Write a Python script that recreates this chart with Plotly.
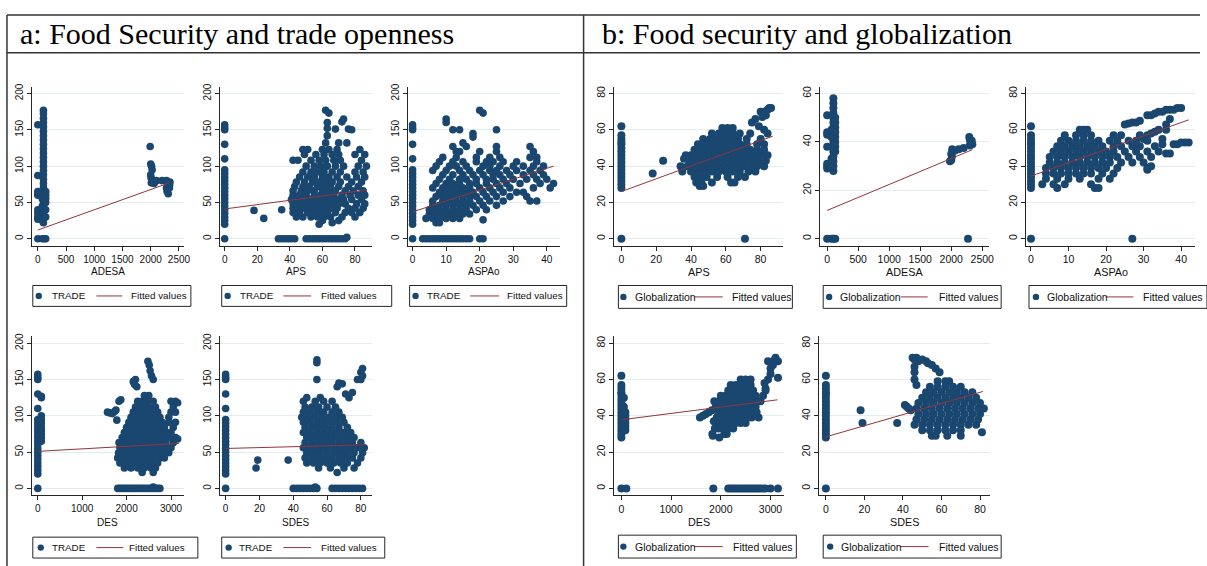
import plotly.graph_objects as go

W, H = 1207, 566
NAVY = "#1a476f"
MAROON = "#90353b"
GRID = "#e3ecee"
INK = "#262626"
SANS = "Liberation Sans, Arial, sans-serif"
SERIF = "Liberation Serif, Times New Roman, serif"

# ======================= DATA =======================
# TRADE / Globalization observations sitting at x = 0
trade_at_zero = [0, 20, 25, 30, 35, 40, 45, 50, 55, 60, 65, 70, 75, 80, 85, 90, 95,
                 110, 130, 150, 153, 157]
glob_at_zero = [0, 28, 30, 32, 34, 36, 38, 40, 42, 44, 46, 48, 50, 52, 53, 55, 57, 62]

# ---- a1: ADESA vs TRADE ----
adesa_trade_cols = [
    (0, [0, 27, 30, 35, 40, 60, 62, 65, 87, 157]),
    (80, [0, 25, 35, 45, 55]),
    (100, [22, 28, 34, 40, 46, 52, 58, 64, 70, 76, 82, 88, 94, 100, 106, 112, 118,
           124, 130, 136, 142, 148, 154, 160, 166, 172, 177]),
    (120, [0]),
    (140, [0, 30, 40, 50, 55, 60, 65]),
]
adesa_trade_pairs = [(1990, 127), (2000, 103), (2015, 100), (2025, 95), (2000, 88),
                     (2005, 84), (2020, 81), (2040, 79), (2060, 76), (2010, 77),
                     (2100, 80), (2200, 80), (2280, 80), (2300, 76), (2320, 73),
                     (2330, 70), (2300, 68), (2290, 65), (2310, 62), (2340, 78),
                     (2335, 74), (2320, 77), (2280, 70), (2300, 72)]
adesa_trade_fit_x = [0, 2330]
adesa_trade_fit_y = [12, 77]

# ---- a2: APS vs TRADE ----
aps_trade_cols = [(0, trade_at_zero)]
aps_trade_rows = [
    (0, [33, 35, 37, 39, 41, 43, 50, 52, 54, 56, 58, 60, 62, 64, 66, 68, 70, 72, 74]),
    (25, [60, 70]),
    (30, [44, 48, 53, 57, 61, 65, 72, 80]),
    (36, [42, 46, 51, 55, 59, 63, 68, 74, 78, 83]),
    (42, [42, 45, 49, 53, 57, 61, 65, 69, 76, 80, 85]),
    (48, [42, 46, 50, 54, 58, 62, 66, 70, 74, 81, 86]),
    (54, [41, 45, 49, 53, 57, 61, 65, 69, 73, 78, 84]),
    (60, [42, 46, 50, 55, 59, 63, 67, 72, 77, 82, 86]),
    (66, [42, 47, 51, 55, 60, 64, 68, 74, 79, 85]),
    (72, [43, 48, 52, 57, 61, 65, 70, 76, 82]),
    (78, [44, 49, 54, 58, 62, 66, 71, 78, 84]),
    (85, [46, 51, 55, 60, 64, 69, 75, 81, 86]),
    (92, [48, 53, 57, 61, 66, 71, 80, 85]),
    (100, [50, 55, 59, 63, 68, 73, 82, 87]),
    (108, [42, 45, 53, 58, 62, 67, 71, 84]),
    (116, [49, 56, 61, 66, 70, 80, 86]),
    (123, [48, 51, 60, 64, 69, 83]),
    (132, [62, 70, 75]),
    (142, [63]),
]
aps_trade_pairs = [(18, 39), (24, 28), (35, 40), (75, 2), (62, 177), (64, 173), (63, 160),
                   (63, 152), (73, 165), (72, 161), (68, 151), (76, 151), (78, 150),
                   (58, 20), (66, 22)]
aps_trade_fit_x = [0, 87]
aps_trade_fit_y = [41, 67]

# ---- a3: ASPAo vs TRADE ----
aspao_trade_cols = [(0, trade_at_zero)]
aspao_trade_rows = [
    (0, [3, 4, 5, 6, 7, 8, 9, 10, 11, 12, 13, 14, 15, 16, 17, 20, 21]),
    (22, [7, 8]),
    (28, [4, 6, 8, 10, 12, 14]),
    (34, [5, 7, 9, 11, 13, 15, 17]),
    (40, [5, 6, 8, 10, 12, 14, 16, 19, 22]),
    (46, [6, 8, 10, 12, 14, 16, 18, 21, 25]),
    (52, [6, 9, 11, 13, 15, 17, 20, 23, 27, 35, 37]),
    (58, [7, 9, 11, 13, 15, 17, 19, 22, 25, 29, 34]),
    (64, [8, 10, 12, 14, 16, 18, 21, 24, 27, 31, 33]),
    (70, [6, 9, 11, 13, 15, 17, 20, 23, 26, 29, 36, 41]),
    (76, [7, 10, 12, 14, 17, 19, 22, 25, 28, 32, 38, 42]),
    (82, [8, 11, 14, 16, 19, 22, 24, 27, 30, 34, 37, 40]),
    (88, [9, 12, 15, 18, 21, 24, 26, 29, 33, 36, 39]),
    (94, [6, 10, 14, 17, 20, 23, 25, 28, 31, 35, 38]),
    (100, [7, 11, 13, 16, 21, 23, 26, 30, 33, 36, 39]),
    (106, [8, 12, 15, 19, 22, 24, 27, 31, 37]),
    (112, [9, 13, 19, 23, 26, 35, 37]),
    (120, [13, 14, 20, 25, 36]),
    (127, [12, 16, 25, 35]),
]
aspao_trade_pairs = [(10, 165), (10, 160), (12, 150), (14, 150), (18, 140), (18, 145),
                     (20, 177), (21, 173), (25, 150), (15, 132), (21, 26)]
aspao_trade_fit_x = [0, 42]
aspao_trade_fit_y = [37, 100]

# ---- a4: DES vs TRADE ----
des_trade_cols = [(0, trade_at_zero), (80, [65, 70, 75, 80, 85, 90, 95, 100, 125, 127])]
des_trade_rows = [
    (0, [1800, 1850, 1900, 1950, 2000, 2050, 2100, 2150, 2200, 2250, 2300, 2350, 2400,
         2450, 2500, 2550, 2600, 2650, 2700, 2750]),
    (22, [2350, 2600]),
    (28, [1950, 2100, 2250, 2400, 2550, 2650]),
    (35, [1850, 1950, 2050, 2150, 2250, 2350, 2450, 2550, 2700]),
    (42, [1800, 1900, 2000, 2100, 2200, 2300, 2400, 2500, 2600, 2750, 2850]),
    (49, [1820, 1920, 2020, 2120, 2220, 2320, 2420, 2520, 2620, 2720, 2850, 2950]),
    (56, [1850, 1950, 2050, 2150, 2250, 2350, 2450, 2550, 2650, 2750, 2900, 3000]),
    (63, [1830, 1930, 2030, 2130, 2230, 2330, 2430, 2530, 2630, 2730, 2880, 3050]),
    (70, [1900, 2000, 2100, 2200, 2300, 2400, 2500, 2600, 2700, 2800, 2950, 3100]),
    (77, [1950, 2050, 2150, 2250, 2350, 2450, 2550, 2650, 2750, 2900, 3000]),
    (84, [2000, 2100, 2200, 2300, 2400, 2500, 2600, 2700, 2850, 3050]),
    (91, [2050, 2150, 2250, 2350, 2450, 2550, 2650, 2800, 2950, 3100]),
    (98, [2100, 2200, 2300, 2400, 2500, 2600, 2750, 2950]),
    (105, [2150, 2250, 2350, 2450, 2550, 2700, 3000, 3100]),
    (112, [2200, 2300, 2400, 2500, 2650, 3050]),
    (120, [2250, 2350, 2450, 2600, 3000, 3100]),
    (128, [2400, 2500]),
]
des_trade_pairs = [(1570, 105), (1620, 104), (1680, 103), (1730, 106), (1760, 108),
                   (1780, 94), (1830, 120), (1870, 122), (2480, 175), (2510, 170),
                   (2530, 162), (2560, 155), (2600, 150), (2200, 150), (2180, 143),
                   (2230, 140), (2150, 147), (3150, 68), (3150, 118), (2600, 2)]
des_trade_fit_x = [0, 3180]
des_trade_fit_y = [51, 62]

# ---- a5: SDES vs TRADE ----
sdes_trade_cols = [(0, trade_at_zero)]
sdes_trade_rows = [
    (0, [40, 42, 44, 46, 48, 50, 52, 54, 63, 65, 67, 69, 71, 73, 75, 77, 79, 81]),
    (22, [66]),
    (28, [55, 62, 70, 76]),
    (35, [48, 52, 56, 60, 64, 68, 72, 78]),
    (42, [47, 51, 55, 59, 63, 67, 71, 75, 80]),
    (49, [48, 52, 56, 60, 64, 68, 72, 76, 81]),
    (56, [46, 50, 54, 58, 62, 66, 70, 74, 78, 82]),
    (63, [47, 51, 55, 59, 63, 67, 71, 75, 80]),
    (70, [48, 52, 56, 60, 64, 68, 72, 76]),
    (77, [46, 50, 54, 58, 62, 66, 70, 74]),
    (84, [47, 51, 55, 59, 63, 67, 72]),
    (91, [46, 50, 54, 58, 62, 66, 70]),
    (98, [45, 49, 53, 57, 61, 65, 69]),
    (105, [46, 50, 54, 58, 63, 67]),
    (112, [47, 51, 55, 60, 65]),
    (120, [46, 53, 58]),
    (125, [48, 56]),
]
sdes_trade_pairs = [(18, 28), (19, 39), (37, 39), (54, 177), (54, 173), (54, 150),
                    (66, 140), (67, 145), (69, 144), (71, 130), (73, 125), (75, 132),
                    (78, 150), (80, 150), (80, 160), (81, 165), (81, 155), (63, 120),
                    (65, 110), (53, 2)]
sdes_trade_fit_x = [0, 82]
sdes_trade_fit_y = [55, 60]

# ---- b1: APS vs Globalization ----
aps_glob_cols = [(0, glob_at_zero)]
aps_glob_rows = [
    (29, [45, 47]),
    (31, [43, 46, 52, 63, 65]),
    (34, [42, 45, 49, 55, 61, 67, 71]),
    (37, [40, 44, 48, 52, 56, 60, 64, 68, 73, 77]),
    (40, [38, 42, 46, 50, 54, 58, 62, 66, 70, 74, 78, 82]),
    (43, [39, 43, 47, 51, 55, 59, 63, 67, 71, 75, 79, 83]),
    (46, [40, 44, 48, 52, 56, 60, 64, 68, 72, 76, 80, 84]),
    (49, [42, 46, 50, 54, 58, 62, 66, 70, 74, 78, 82]),
    (52, [44, 48, 52, 56, 60, 64, 68, 72, 78, 82]),
    (55, [47, 51, 55, 59, 63, 67, 72, 80]),
    (58, [52, 56, 60, 64, 68, 74]),
    (61, [58, 61, 64]),
]
aps_glob_pairs = [(18, 36), (24, 43), (71, 0), (34, 40), (35, 37), (36, 44), (37, 46),
                  (75, 64), (77, 66), (80, 70), (82, 70), (84, 71), (85, 72), (86, 72),
                  (83, 68), (81, 67), (79, 62), (82, 60), (84, 58)]
aps_glob_fit_x = [0, 87]
aps_glob_fit_y = [26, 56.5]

# ---- b2: ADESA vs Globalization ----
adesa_glob_cols = [
    (0, [0, 29, 30, 31, 38, 43, 44, 51]),
    (70, [0, 30, 33, 42, 45]),
    (100, [0, 28, 30, 32, 34, 36, 38, 40, 42, 44, 46, 48, 50, 52, 54, 56, 58]),
    (130, [0, 36, 38, 40, 42, 44, 46, 48, 50]),
]
adesa_glob_pairs = [(2270, 0), (1980, 32), (2000, 32.5), (2010, 34), (2020, 36),
                    (2015, 37), (2060, 36.5), (2120, 37), (2200, 37.5), (2000, 35),
                    (2290, 42), (2300, 41), (2310, 40), (2330, 40.5), (2320, 39),
                    (2340, 39), (2300, 38.5)]
adesa_glob_fit_x = [0, 2340]
adesa_glob_fit_y = [11.7, 36.8]

# ---- b3: ASPAo vs Globalization ----
aspao_glob_cols = [(0, glob_at_zero)]
aspao_glob_rows = [
    (28, [7, 17, 18]),
    (30, [3, 6, 9, 16]),
    (33, [4, 7, 10, 13, 18, 21]),
    (36, [4, 6, 8, 10, 12, 14, 16, 19, 22]),
    (39, [4, 6, 8, 10, 12, 14, 16, 18, 20, 23, 31]),
    (42, [5, 7, 9, 11, 13, 15, 17, 19, 21, 24, 27, 30]),
    (45, [5, 7, 9, 11, 13, 15, 17, 19, 21, 23, 26, 29, 32]),
    (48, [6, 8, 10, 12, 14, 16, 18, 20, 22, 25, 28, 31, 34]),
    (51, [7, 9, 11, 13, 15, 17, 19, 22, 24, 27, 29, 33]),
    (54, [8, 10, 12, 14, 16, 18, 21, 23, 26, 28, 31]),
    (57, [9, 12, 14, 16, 22, 24, 29]),
    (60, [13, 14, 15]),
]
aspao_glob_pairs = [(27, 0), (25, 63), (26, 63.5), (27, 64), (28, 64), (29, 65), (31, 68),
                    (32, 68), (33, 69), (34, 70), (35, 70), (36, 71), (37, 71), (38, 71),
                    (39, 72), (40, 72), (36, 47), (37, 47), (38, 52), (39, 52), (40, 53),
                    (41, 53), (42, 53), (35, 55), (36, 60), (36, 63), (37, 66), (35, 52),
                    (30, 55), (31, 57), (32, 58), (33, 59), (34, 60), (31, 38), (32, 40)]
aspao_glob_fit_x = [0, 42]
aspao_glob_fit_y = [34.5, 65.5]

# ---- b4: DES vs Globalization ----
des_glob_cols = [(0, glob_at_zero), (80, [32, 34, 36, 38, 40, 42]), (50, [35, 45, 50])]
des_glob_rows = [
    (0, [100, 1850, 2150, 2200, 2250, 2300, 2350, 2400, 2450, 2500, 2550, 2600, 2650,
         2700, 2750, 2800, 2850, 2900, 3000, 3150]),
    (30, [2070, 2120]),
    (33, [1950, 2050, 2150, 2250]),
    (36, [1900, 2000, 2100, 2200, 2300, 2400, 2500]),
    (39, [1920, 2020, 2120, 2220, 2320, 2420, 2520, 2620, 2760]),
    (42, [1950, 2050, 2150, 2250, 2350, 2450, 2550, 2650, 2720]),
    (45, [1900, 2000, 2100, 2200, 2300, 2400, 2500, 2600, 2700]),
    (48, [1870, 1970, 2070, 2170, 2270, 2370, 2470, 2570, 2670, 2800]),
    (51, [2000, 2100, 2200, 2300, 2400, 2500, 2600, 2700, 2850]),
    (54, [2150, 2250, 2350, 2450, 2550, 2650, 2900]),
    (57, [2200, 2300, 2400, 2500, 2600]),
    (60, [2400, 2500, 2600]),
]
des_glob_pairs = [(1580, 39), (1640, 40), (1700, 41), (1760, 42), (1820, 43), (1830, 30),
                  (1840, 29), (1970, 28), (1880, 33), (1860, 37), (2950, 60), (3000, 63),
                  (3000, 66), (2950, 70), (3050, 70), (3100, 71), (3100, 72), (3150, 70),
                  (3150, 61), (3050, 68), (2880, 58), (2900, 55)]
des_glob_fit_x = [0, 3140]
des_glob_fit_y = [37.8, 48.8]

# ---- b5: SDES vs Globalization ----
sdes_glob_cols = [(0, glob_at_zero)]
sdes_glob_rows = [
    (29, [55, 57, 63, 70]),
    (32, [50, 54, 58, 62, 66, 70]),
    (35, [46, 50, 54, 58, 62, 66, 70, 74, 78]),
    (38, [47, 51, 55, 59, 63, 67, 71, 75, 79]),
    (41, [48, 52, 56, 60, 64, 68, 72, 76, 80]),
    (44, [47, 51, 55, 59, 63, 67, 71, 75, 79, 82]),
    (47, [48, 52, 56, 60, 64, 68, 72, 76, 80]),
    (50, [50, 54, 58, 62, 66, 70, 74, 78]),
    (53, [52, 56, 60, 64, 68, 72, 76]),
    (56, [54, 58, 62, 66, 70]),
    (59, [58, 62, 64]),
]
sdes_glob_pairs = [(18, 43), (19, 36), (37, 36), (41, 46), (42, 45), (43, 44), (44, 43),
                   (45, 72), (46, 71), (47, 72), (48, 70), (46, 67), (46, 64), (46, 60),
                   (47, 57), (52, 70), (53, 69), (55, 68), (57, 66), (59, 64), (50, 71),
                   (81, 31)]
sdes_glob_fit_x = [0, 81.5]
sdes_glob_fit_y = [28.4, 53.4]

trade_ticks = [0, 50, 100, 150, 200]
glob_ticks = [0, 20, 40, 60, 80]
glob_ticks_60 = [0, 20, 40, 60]
adesa_ticks = [0, 500, 1000, 1500, 2000, 2500]
aps_ticks = [0, 20, 40, 60, 80]
aspao_ticks = [0, 10, 20, 30, 40]
des_ticks = [0, 1000, 2000, 3000]
sdes_ticks = [0, 20, 40, 60, 80]


def collect(cols=(), rows=(), pairs=()):
    xs, ys = [], []
    for x, yl in cols:
        xs += [x] * len(yl)
        ys += list(yl)
    for y, xl in rows:
        xs += list(xl)
        ys += [y] * len(xl)
    for x, y in pairs:
        xs.append(x)
        ys.append(y)
    return xs, ys


# ======================= LAYOUT (pixel boxes) =======================
def fx(px):
    return px / W


def fy(py):
    return 1 - py / H


LEFT = dict(ms=7.6, tick=10, title=10, leg=9.8)
RIGHT = dict(ms=8.0, tick=10.5, title=10.8, leg=10.5)

panels = [
    dict(data=collect(adesa_trade_cols, (), adesa_trade_pairs), fit=(adesa_trade_fit_x, adesa_trade_fit_y),
         xd=(32, 185), yd=(84, 244), xr=(-106, 2588), yr=(-9.6, 209.6), xt=adesa_ticks, yt=trade_ticks,
         xtitle="ADESA", yname="TRADE", st=LEFT, ty=270,
         leg=dict(box=(33, 192, 284, 305), m=39, t1=50, l=(97, 123), t2=130)),
    dict(data=collect(aps_trade_cols, aps_trade_rows, aps_trade_pairs), fit=(aps_trade_fit_x, aps_trade_fit_y),
         xd=(221, 374), yd=(84, 244), xr=(-3.05, 90.35), yr=(-9.6, 209.6), xt=aps_ticks, yt=trade_ticks,
         xtitle="APS", yname="TRADE", st=LEFT, ty=270,
         leg=dict(box=(223, 394, 284, 305), m=229, t1=239, l=(285, 313), t2=321)),
    dict(data=collect(aspao_trade_cols, aspao_trade_rows, aspao_trade_pairs), fit=(aspao_trade_fit_x, aspao_trade_fit_y),
         xd=(410, 563), yd=(84, 244), xr=(-1.48, 43.85), yr=(-9.6, 209.6), xt=aspao_ticks, yt=trade_ticks,
         xtitle="ASPAo", yname="TRADE", st=LEFT, ty=270,
         leg=dict(box=(412, 570, 284, 305), m=418, t1=427, l=(473, 502), t2=508)),
    dict(data=collect(des_trade_cols, des_trade_rows, des_trade_pairs), fit=(des_trade_fit_x, des_trade_fit_y),
         xd=(32, 185), yd=(335, 495), xr=(-134, 3291), yr=(-9.6, 209.6), xt=des_ticks, yt=trade_ticks,
         xtitle="DES", yname="TRADE", st=LEFT, ty=522,
         leg=dict(box=(33, 199, 537, 558), m=41, t1=50, l=(97, 124), t2=128)),
    dict(data=collect(sdes_trade_cols, sdes_trade_rows, sdes_trade_pairs), fit=(sdes_trade_fit_x, sdes_trade_fit_y),
         xd=(221, 374), yd=(335, 495), xr=(-3.5, 86.5), yr=(-9.6, 209.6), xt=sdes_ticks, yt=trade_ticks,
         xtitle="SDES", yname="TRADE", st=LEFT, ty=522,
         leg=dict(box=(223, 387, 537, 558), m=230, t1=238, l=(285, 313), t2=321)),
    dict(data=collect(aps_glob_cols, aps_glob_rows, aps_glob_pairs), fit=(aps_glob_fit_x, aps_glob_fit_y),
         xd=(618, 788), yd=(84, 244), xr=(-4, 93.1), yr=(-3.84, 83.84), xt=aps_ticks, yt=glob_ticks,
         xtitle="APS", yname="Globalization", st=RIGHT, ty=270,
         leg=dict(box=(622, 797, 284, 307), m=627, t1=637, l=(698, 727), t2=734)),
    dict(data=collect(adesa_glob_cols, (), adesa_glob_pairs), fit=(adesa_glob_fit_x, adesa_glob_fit_y),
         xd=(825, 995), yd=(84, 244), xr=(-112, 2612), yr=(-2.88, 62.88), xt=adesa_ticks, yt=glob_ticks_60,
         xtitle="ADESA", yname="Globalization", st=RIGHT, ty=270,
         leg=dict(box=(828, 1007, 284, 307), m=834, t1=843, l=(906, 933), t2=942)),
    dict(data=collect(aspao_glob_cols, aspao_glob_rows, aspao_glob_pairs), fit=(aspao_glob_fit_x, aspao_glob_fit_y),
         xd=(1032, 1202), yd=(84, 244), xr=(-1.32, 43.7), yr=(-3.84, 83.84), xt=aspao_ticks, yt=glob_ticks,
         xtitle="ASPAo", yname="Globalization", st=RIGHT, ty=270,
         leg=dict(box=(1035, 1214, 284, 307), m=1042, t1=1051, l=(1112, 1140), t2=1148)),
    dict(data=collect(des_glob_cols, des_glob_rows, des_glob_pairs), fit=(des_glob_fit_x, des_glob_fit_y),
         xd=(618, 789), yd=(335, 495), xr=(-140, 3280), yr=(-3.84, 83.84), xt=des_ticks, yt=glob_ticks,
         xtitle="DES", yname="Globalization", st=RIGHT, ty=522,
         leg=dict(box=(622, 801, 535, 558), m=627, t1=637, l=(698, 727), t2=735)),
    dict(data=collect(sdes_glob_cols, sdes_glob_rows, sdes_glob_pairs), fit=(sdes_glob_fit_x, sdes_glob_fit_y),
         xd=(824, 996), yd=(335, 495), xr=(-3.46, 85.3), yr=(-3.84, 83.84), xt=sdes_ticks, yt=glob_ticks,
         xtitle="SDES", yname="Globalization", st=RIGHT, ty=522,
         leg=dict(box=(828, 1007, 535, 558), m=835, t1=844, l=(905, 934), t2=942)),
]

fig = go.Figure()
layout = {}
shapes = []
annotations = []

for i, p in enumerate(panels, start=1):
    sfx = "" if i == 1 else str(i)
    st = p["st"]
    xs, ys = p["data"]
    fig.add_trace(go.Scatter(
        x=xs, y=ys, mode="markers", name=p["yname"], showlegend=False,
        marker=dict(color=NAVY, size=st["ms"], line=dict(width=0)),
        xaxis="x" + sfx, yaxis="y" + sfx, cliponaxis=False))
    fig.add_trace(go.Scatter(
        x=p["fit"][0], y=p["fit"][1], mode="lines", name="Fitted values", showlegend=False,
        line=dict(color=MAROON, width=1), xaxis="x" + sfx, yaxis="y" + sfx))
    axis_common = dict(showline=True, linecolor=INK, linewidth=1, ticks="outside", ticklen=4,
                       tickwidth=1, tickcolor=INK, zeroline=False, fixedrange=True,
                       tickfont=dict(family=SANS, size=st["tick"], color="#111"))
    layout["xaxis" + sfx] = dict(domain=[fx(p["xd"][0]), fx(p["xd"][1])], range=list(p["xr"]),
                                 anchor="y" + sfx, tickmode="array", tickvals=p["xt"],
                                 showgrid=False, **axis_common)
    layout["yaxis" + sfx] = dict(domain=[fy(p["yd"][1]), fy(p["yd"][0])], range=list(p["yr"]),
                                 anchor="x" + sfx, tickmode="array", tickvals=p["yt"],
                                 showgrid=True, gridcolor=GRID, gridwidth=1, tickangle=-90,
                                 **axis_common)
    # x-axis title
    annotations.append(dict(text=p["xtitle"], x=fx((p["xd"][0] + p["xd"][1]) / 2), y=fy(p["ty"]),
                            xref="paper", yref="paper", xanchor="center", yanchor="middle",
                            showarrow=False, font=dict(family=SANS, size=st["title"], color="#111")))
    # legend drawn as box
    lg = p["leg"]
    bx0, bx1, by0, by1 = lg["box"]
    cy = (by0 + by1) / 2
    shapes.append(dict(type="rect", xref="paper", yref="paper", x0=fx(bx0), x1=fx(bx1),
                       y0=fy(by1), y1=fy(by0), line=dict(color=INK, width=1), fillcolor="white",
                       layer="above"))
    r = 3.2
    shapes.append(dict(type="circle", xref="paper", yref="paper", x0=fx(lg["m"] - r), x1=fx(lg["m"] + r),
                       y0=fy(cy + r), y1=fy(cy - r), line=dict(width=0), fillcolor=NAVY, layer="above"))
    shapes.append(dict(type="line", xref="paper", yref="paper", x0=fx(lg["l"][0]), x1=fx(lg["l"][1]),
                       y0=fy(cy), y1=fy(cy), line=dict(color=MAROON, width=1), layer="above"))
    for txt, tx in ((p["yname"], lg["t1"]), ("Fitted values", lg["t2"])):
        annotations.append(dict(text=txt, x=fx(tx), y=fy(cy), xref="paper", yref="paper",
                                xanchor="left", yanchor="middle", showarrow=False,
                                font=dict(family=SANS, size=st["leg"], color="#111")))

# table frame
frame = [(7, 12, W, 12), (7, 50, W, 50), (7, 12, 7, H), (587, 12, 587, H)]
for x0, y0, x1, y1 in frame:
    shapes.append(dict(type="line", xref="paper", yref="paper", x0=fx(x0), x1=fx(x1),
                       y0=fy(y0), y1=fy(y1), line=dict(color="#333", width=1.5)))

annotations.append(dict(text="a: Food Security and trade openness", x=fx(18), y=fy(31),
                        xref="paper", yref="paper", xanchor="left", yanchor="middle",
                        showarrow=False, font=dict(family=SERIF, size=30, color="black")))
annotations.append(dict(text="b: Food security and globalization", x=fx(603), y=fy(31),
                        xref="paper", yref="paper", xanchor="left", yanchor="middle",
                        showarrow=False, font=dict(family=SERIF, size=30, color="black")))

fig.update_layout(
    width=W, height=H, autosize=False, margin=dict(l=0, r=0, t=0, b=0),
    paper_bgcolor="white", plot_bgcolor="white", showlegend=False,
    shapes=shapes, annotations=annotations, **layout)

fix_page = (
    "document.documentElement.style.overflow='hidden';"
    "document.body.style.margin='0px';"
    "document.body.style.overflow='hidden';"
    "var gd=document.getElementById('{plot_id}');"
    "gd.style.position='fixed';gd.style.left='0px';gd.style.top='0px';"
    "gd.style.width='%dpx';gd.style.height='%dpx';"
    "Plotly.relayout(gd,{width:%d,height:%d});" % (W, H, W, H)
)
fig.write_html("out.html", config={"displayModeBar": False, "responsive": False},
               post_script=fix_page)
